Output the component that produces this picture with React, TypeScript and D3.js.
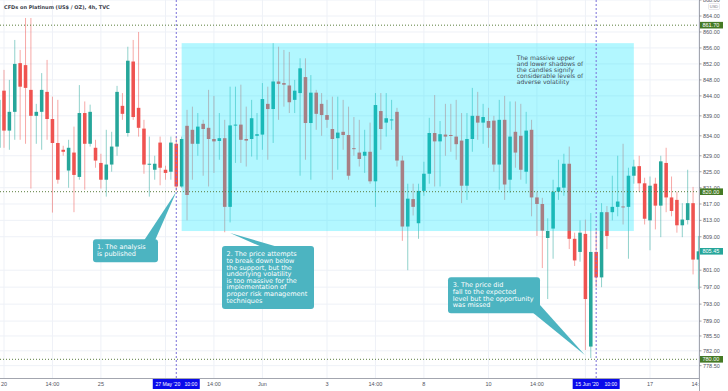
import React from "react";
import * as d3 from "d3";

const WIDTH = 728;
const HEIGHT = 391;
const TITLE = "CFDs on Platinum (US$ / OZ), 4h, TVC";

// candle index of the first entry (May 20 is index 0)
const FIRST_INDEX = -1;
const OPEN = [831, 845.3, 835.3, 840, 852.2, 851.7, 845.5, 839, 840, 845, 838.2, 832.2, 830.5, 825.3, 829.8, 823.7, 839.7, 832, 831, 827.2, 823, 826.8, 831.3, 841.5, 834.7, 852.6, 841, 835.8, 826.8, 825.5, 832.3, 825.5, 825, 832, 821.3, 836.5, 835.5, 832, 837, 836, 833.2, 832.7, 833.4, 816.3, 836.6, 836.8, 833.2, 833.2, 834, 834.3, 842, 840.7, 847.6, 847.2, 846.6, 843, 844.7, 848.7, 837.2, 844.8, 842, 839.2, 835.7, 833.4, 835, 834.2, 830.9, 829.8, 829, 830, 822.6, 840.2, 837.3, 838, 840, 827.8, 811.5, 818.2, 812.3, 820.2, 824.5, 834.7, 832.6, 834.3, 834.2, 833.8, 832.8, 821.5, 833.2, 839, 837.3, 837.7, 837.8, 826.8, 838, 823, 835, 834, 825, 835.5, 818.6, 817, 808.7, 811, 820, 821, 827, 808.5, 805.3, 809.7, 783, 805.3, 799.3, 815, 815, 816.3, 816.4, 816.3, 824, 826.4, 822.1, 813, 822, 816.6, 827.2, 818.6, 818, 811.8, 813.1, 817.2, 803.5];
const HIGH = [845, 850.5, 848, 858, 855.5, 863.5, 863.5, 842, 849.7, 853, 843.8, 843, 831.5, 833, 836.3, 846.7, 842.6, 841.8, 833, 829.5, 835.5, 835, 846.5, 844.7, 856.3, 858, 860, 838, 833.8, 829, 833.8, 826.5, 833.8, 833.8, 833.8, 840.5, 841.3, 839.7, 838, 845.5, 844, 839.7, 838, 846.3, 846.3, 846.8, 841.3, 843, 839.7, 847.2, 846.3, 857.2, 856.3, 855.5, 855, 848, 853.4, 853.4, 849.2, 845.5, 844.7, 843, 843.8, 843.8, 843, 841.3, 838.7, 838, 835.5, 837.3, 844.7, 844.7, 844.7, 843, 841, 829, 822, 822, 822, 827.5, 838.5, 844.2, 837.7, 842, 842, 843, 839.7, 839.7, 846, 845, 842, 841, 839, 843, 844, 842.6, 842.6, 842, 840, 838, 820, 818.5, 813.5, 823, 828, 829.5, 831.3, 810, 813, 813.2, 814.8, 811, 817.2, 816.5, 824, 829, 832, 826, 828, 829, 823.5, 823.8, 823.5, 829, 831, 823.8, 820, 817.2, 825.5, 821.2, 809.2];
const LOW = [829, 831, 830.5, 833, 833, 832, 820.8, 832, 830.5, 833, 814.9, 822, 829, 821, 815, 823, 820.5, 831.3, 826, 820.8, 818.8, 825, 829, 838, 833.8, 838, 833.8, 824.5, 818.8, 823, 821.6, 823, 823, 820.2, 821, 813, 823, 829, 824, 821.3, 824.7, 828, 810.1, 812.5, 827.2, 827.2, 826.3, 828.8, 828, 830.5, 828, 832.2, 838, 841.3, 839.7, 839.7, 824, 828, 823, 835.5, 834, 836, 823, 825.5, 830.5, 823, 829, 826.3, 824.7, 822, 816.3, 830.5, 833.8, 835.5, 826.3, 808, 801, 814.2, 808.5, 819, 822, 821.3, 821.3, 829, 830, 828, 817.2, 818, 830, 833, 832, 831, 825, 820.5, 818, 819.7, 826, 823, 822, 814, 809.2, 801.5, 794.2, 803.7, 818, 819, 806, 802, 803, 782.2, 780.3, 797, 797, 806, 813, 814, 812, 803.7, 822, 820, 812, 805.7, 810.8, 808.9, 815, 814, 810, 808.9, 812, 800, 796.5];
const CLOSE = [843, 835.3, 840, 852, 846.3, 846, 839, 840, 845.5, 838.2, 832.2, 823, 830, 831, 824.2, 839.7, 832, 840, 827.8, 823, 826.8, 831.3, 845, 839.5, 852.8, 838.7, 836, 826.8, 827, 827, 826, 824.7, 832.3, 821.3, 833.2, 819.2, 832, 836.3, 835.7, 833.2, 832.6, 833.4, 816.3, 836.6, 836.8, 833, 832.8, 838.4, 834.4, 843.2, 840.7, 847.6, 847, 846.8, 842.4, 845.3, 850.9, 837.2, 844.8, 839.5, 839.2, 838, 833.2, 834.8, 834.2, 824, 830.7, 828.2, 830, 822.6, 841.7, 835.7, 838.4, 838.1, 827.8, 811.5, 818.3, 816.3, 820.2, 824.5, 834.7, 832.6, 834.4, 833.8, 834, 831.9, 821.5, 833.2, 839, 837.3, 838.7, 836, 826.8, 838, 821.8, 833.8, 829.8, 825.5, 835.3, 818.6, 817, 810.5, 810.4, 820, 821.1, 827, 808.5, 803.3, 810, 794.2, 805.3, 799.3, 815, 809.2, 816.3, 817.6, 816.2, 824, 826.3, 822.1, 813.4, 821.5, 816.6, 827.6, 818.6, 815.3, 811.8, 813.2, 817.2, 803.5, 805.45];

const Y_TICKS = [868, 864, 860, 856, 852, 848, 844, 839, 834, 829, 825, 821, 817, 813, 809, 801, 797, 793, 789, 785.5, 782, 778.5];
const X_TICK_INDEX = [0, 9, 18, 30, 39, 48, 60, 69, 78, 90, 99, 108, 120, 129];
const X_TICK_LABELS = ["20", "14:00", "25", "27", "14:00", "Jun", "3", "14:00", "8", "10", "14:00", "15", "17", "14:00"];

const LEVELS = [861.7, 820, 780];
const LEVEL_LABELS = ["861.70", "820.00", "780.00"];
const LAST_PRICE = 805.45;
const LAST_LABEL = "805.45";

const MARKER_INDEX = [32, 110];
const MARKER_DATES = ["27 May '20", "15 Jun '20"];
const MARKER_TIMES = ["10:00", "10:00"];

const ZONE_INDEX = [33, 117];
const ZONE_PRICE = [857.2, 810.4];

const NOTE_TEXT = ["The massive upper", "and lower shadows of", "the candles signify", "considerable levels of", "adverse volatility"];
const CALLOUT1 = ["1. The analysis", "is published"];
const CALLOUT2 = ["2. The price attempts", "to break down below", "the support, but the", "underlying volatility", "is too massive for the", "implementation of", "proper risk management", "techniques"];
const CALLOUT3 = ["3. The price did", "fall to the expected", "level but the opportunity", "was missed"];

const UP = "#26a69a";
const DOWN = "#ef5350";
const CALLOUT_FILL = "#4cb4c1";
const LEVEL_FILL = "#457a25";
const AXIS_FONT = "'Liberation Sans', Arial, sans-serif";
const NOTE_FONT = "'DejaVu Sans', Verdana, sans-serif";

export default function App() {
  const plotRight = 699;
  const plotBottom = 378;
  const x = d3.scaleLinear().domain([0, 120]).range([4, 650]);
  const y = d3.scaleLinear().domain([864, 820, 805.45, 780]).range([16, 191.7, 251.3, 359.3]);
  const step = x(1) - x(0);
  const bw = step * 0.66;
  const markerHalf = 23.5;

  const candles = OPEN.map((o, k) => ({ i: FIRST_INDEX + k, o, h: HIGH[k], l: LOW[k], c: CLOSE[k] }));

  const tip1: [number, number] = [x(32), y(820)];
  const tip2: [number, number] = [x(42), y(809.9)];
  const tip3: [number, number] = [x(107.9), y(781)];

  const poly = (pts: [number, number][]) => pts.map((p) => p.join(",")).join(" ");
  const hiddenByMarker = (t: number) => MARKER_INDEX.some((m) => Math.abs(x(t) - x(m)) < markerHalf);

  return (
    <svg width={WIDTH} height={HEIGHT} style={{ position: "fixed", left: 0, top: 0, background: "#fff" }}>
      <defs>
        <clipPath id="plot">
          <rect x={0} y={0} width={plotRight} height={plotBottom} />
        </clipPath>
        <clipPath id="xaxis">
          <rect x={0} y={plotBottom} width={plotRight} height={HEIGHT - plotBottom} />
        </clipPath>
        <clipPath id="yaxis">
          <rect x={plotRight} y={0} width={WIDTH - plotRight} height={plotBottom} />
        </clipPath>
      </defs>
      <rect x={0} y={0} width={WIDTH} height={HEIGHT} fill="#ffffff" />

      <g clipPath="url(#plot)">
        {Y_TICKS.map((t) => (
          <line key={"gy" + t} x1={0} x2={plotRight} y1={y(t)} y2={y(t)} stroke="#eef1f7" strokeWidth={1} />
        ))}
        {X_TICK_INDEX.map((t) => (
          <line key={"gx" + t} x1={x(t)} x2={x(t)} y1={0} y2={plotBottom} stroke="#eef1f7" strokeWidth={1} />
        ))}

        {candles.map((d) => {
          const col = d.c >= d.o ? UP : DOWN;
          const top = y(Math.max(d.o, d.c));
          const bot = y(Math.min(d.o, d.c));
          return (
            <g key={"c" + d.i}>
              <line x1={x(d.i)} x2={x(d.i)} y1={y(d.h)} y2={y(d.l)} stroke={col} strokeOpacity={0.5} strokeWidth={1} />
              <rect x={x(d.i) - bw / 2} y={top} width={bw} height={Math.max(1, bot - top)} fill={col} />
            </g>
          );
        })}

        <rect
          x={x(ZONE_INDEX[0])}
          y={y(ZONE_PRICE[0])}
          width={x(ZONE_INDEX[1]) - x(ZONE_INDEX[0])}
          height={y(ZONE_PRICE[1]) - y(ZONE_PRICE[0])}
          fill="#00e5ff"
          fillOpacity={0.3}
        />

        {LEVELS.map((v) => (
          <line key={"lv" + v} x1={0} x2={plotRight} y1={y(v)} y2={y(v)} stroke="#5a7d3c" strokeWidth={1} strokeDasharray="1 2" />
        ))}

        {MARKER_INDEX.map((m) => (
          <line key={"mk" + m} x1={x(m)} x2={x(m)} y1={0} y2={plotBottom} stroke="#7a6fd8" strokeWidth={1} strokeDasharray="2 2" />
        ))}

        {NOTE_TEXT.map((t, k) => (
          <text key={"nt" + k} x={516.7} y={60 + k * 6.1} fontFamily={NOTE_FONT} fontSize={6.1} fill="#3f4d57">
            {t}
          </text>
        ))}

        {/* callout 1 */}
        <polygon points={poly([[144, 240.5], [155, 240.5], tip1])} fill={CALLOUT_FILL} />
        <rect x={93} y={239.3} width={65} height={23} rx={3} fill={CALLOUT_FILL} />
        {CALLOUT1.map((t, k) => (
          <text key={"c1" + k} x={97} y={249 + k * 7.2} fontFamily={NOTE_FONT} fontSize={6.5} fill="#ffffff">
            {t}
          </text>
        ))}

        {/* callout 2 */}
        <polygon points={poly([[262, 247], [278, 247], tip2])} fill={CALLOUT_FILL} />
        <rect x={222} y={246} width={92} height={63} rx={3} fill={CALLOUT_FILL} />
        {CALLOUT2.map((t, k) => (
          <text key={"c2" + k} x={226.5} y={256.3 + k * 6.6} fontFamily={NOTE_FONT} fontSize={6.5} fill="#ffffff">
            {t}
          </text>
        ))}

        {/* callout 3 */}
        <polygon points={poly([[532, 312], [540, 305], tip3])} fill={CALLOUT_FILL} />
        <rect x={448} y={277.3} width={92} height={36} rx={3} fill={CALLOUT_FILL} />
        {CALLOUT3.map((t, k) => (
          <text key={"c3" + k} x={452.7} y={287.3 + k * 6.67} fontFamily={NOTE_FONT} fontSize={6.5} fill="#ffffff">
            {t}
          </text>
        ))}

        <text x={4} y={8.5} fontFamily={NOTE_FONT} fontWeight="bold" fontSize={5} fill="#3a3e4a">
          {TITLE}
        </text>
      </g>

      {/* axes lines */}
      <line x1={0} x2={plotRight} y1={plotBottom + 0.5} y2={plotBottom + 0.5} stroke="#a3a6af" strokeWidth={1} />
      <line x1={plotRight + 0.5} x2={plotRight + 0.5} y1={0} y2={HEIGHT} stroke="#a3a6af" strokeWidth={1} />

      {/* y axis */}
      <g clipPath="url(#yaxis)">
        {Y_TICKS.map((t) => (
          <g key={"yt" + t}>
            <line x1={plotRight} x2={plotRight + 2.5} y1={y(t)} y2={y(t)} stroke="#8a8d96" strokeWidth={0.8} />
            <text x={703} y={y(t)} dy="0.35em" fontFamily={AXIS_FONT} fontSize={5.5} fill="#50535e">
              {t.toFixed(2)}
            </text>
          </g>
        ))}
        {LEVELS.map((v, k) => (
          <g key={"ll" + v}>
            <rect x={700} y={y(v) - 3.3} width={23} height={6.6} fill={LEVEL_FILL} />
            <text x={702.5} y={y(v)} dy="0.35em" fontFamily={AXIS_FONT} fontSize={5.5} fill="#ffffff">
              {LEVEL_LABELS[k]}
            </text>
          </g>
        ))}
        <rect x={700} y={y(LAST_PRICE) - 3.3} width={23} height={6.6} fill={UP} />
        <text x={702.5} y={y(LAST_PRICE)} dy="0.35em" fontFamily={AXIS_FONT} fontSize={5.5} fill="#ffffff">
          {LAST_LABEL}
        </text>
        <rect x={708.5} y={3.5} width={11} height={6} fill="#ffffff" stroke="#d6d9df" strokeWidth={0.6} rx={1} />
        <text x={714} y={6.5} dy="0.35em" textAnchor="middle" fontFamily={AXIS_FONT} fontSize={4} fill="#787b86">
          USD
        </text>
      </g>

      {/* x axis */}
      <g clipPath="url(#xaxis)">
        {X_TICK_INDEX.map((t, k) =>
          hiddenByMarker(t) ? null : (
            <text key={"xt" + t} x={x(t)} y={386} textAnchor="middle" fontFamily={AXIS_FONT} fontSize={5.5} fill="#50535e">
              {X_TICK_LABELS[k]}
            </text>
          )
        )}
        {MARKER_INDEX.map((m, k) => (
          <g key={"ml" + m}>
            <rect x={x(m) - markerHalf} y={379} width={markerHalf * 2} height={10} fill="#0a0aeb" />
            <text x={x(m) - markerHalf + 2.7} y={386} fontFamily={AXIS_FONT} fontSize={5.1} fill="#ffffff">
              {MARKER_DATES[k]}
            </text>
            <text x={x(m) + markerHalf - 2.5} y={386} textAnchor="end" fontFamily={AXIS_FONT} fontSize={5.1} fill="#ffffff">
              {MARKER_TIMES[k]}
            </text>
          </g>
        ))}
      </g>
    </svg>
  );
}
